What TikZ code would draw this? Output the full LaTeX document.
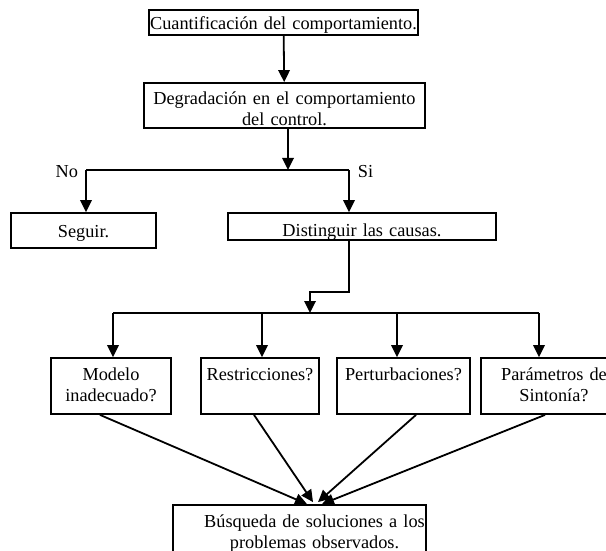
\documentclass[tikz,border=0pt]{standalone}
\usepackage{fontspec}
\setmainfont{Liberation Serif}
\usetikzlibrary{arrows.meta}

\tikzset{
  caja/.style={draw,inner sep=0pt,align=center},
  etiq/.style={inner sep=0pt}
}

\begin{document}
\begin{tikzpicture}[x=1pt,y=-1pt,line width=1.8pt,
  >={Triangle[length=12pt,width=11.5pt]},
  font=\fontsize{18.3}{21}\selectfont]
\path[use as bounding box,fill=white] (0,0) rectangle (606,551);

\node[caja,text width=269pt,text height=20pt,text depth=5pt] (cuant) at (283.5,22.5) {Cuantificación del comportamiento.};
\node[caja,text width=281pt,text height=22pt,text depth=23pt] (degr) at (284.5,105.5) {Degradación en el comportamiento\\del control.};
\node[caja,text width=145pt,text height=24pt,text depth=11pt] (seguir) at (83.5,230.5) {Seguir.};
\node[caja,text width=268pt,text height=23pt,text depth=4pt] (dist) at (362,226.5) {Distinguir las causas.};

\node[caja,text width=120pt,text height=22pt,text depth=34pt] (modelo) at (111,386) {Modelo\\inadecuado?};
\node[caja,text width=118pt,text height=22pt,text depth=34pt] (restr) at (260,386) {Restricciones?};
\node[caja,text width=133pt,text height=22pt,text depth=34pt] (pert) at (403.5,386) {Perturbaciones?};
\node[caja,text width=146pt,text height=22pt,text depth=34pt] (param) at (554,386) {Parámetros de\\Sintonía?};

\node[caja,text width=253pt,text height=22pt,text depth=29pt] (busq) at (299.5,530.5) {\mbox{\hspace*{30pt}Búsqueda de soluciones a los}\\\mbox{\hspace*{30pt}problemas observados.}};

% decision
\coordinate (split) at (288,170);
\coordinate (no) at (86,170);
\coordinate (si) at (349,170);
\draw[->] (cuant) -- (degr);
\draw[->] (split |- degr.south) -- (split);
\draw (no) -- (si);
\draw[->] (no) -- (no |- seguir.north);
\draw[->] (si) -- (si |- dist.north);
\node[etiq,anchor=base east] (nolbl) at (79,178) {No};
\node[etiq,anchor=base west] (silbl) at (357,178) {Si};

% causas
\coordinate (jog) at (310,292);
\coordinate (bus) at (310,313);
\coordinate (busI) at (113,313);
\coordinate (busD) at (539,313);
\draw[->] (si |- dist.south) |- (jog) -- (bus);
\draw (busI) -- (busD);
\foreach \n/\x in {modelo/113,restr/262,pert/397,param/539}
  \draw[->] (\x,313) -- (\x,313 |- \n.north);

\draw[->] ([xshift=-11pt]modelo.south) -- ([xshift=7.5pt]busq.north);
\draw[->] ([xshift=-6pt]restr.south) -- ([xshift=13.5pt,yshift=2pt]busq.north);
\draw[->] ([xshift=12.5pt]pert.south) -- ([xshift=18.5pt,yshift=2pt]busq.north);
\draw[->] ([xshift=-9pt]param.south) -- ([xshift=22.5pt]busq.north);
\end{tikzpicture}
\end{document}
